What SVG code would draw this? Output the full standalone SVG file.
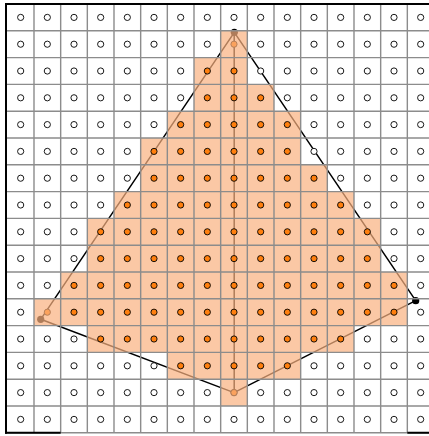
<svg xmlns="http://www.w3.org/2000/svg" width="429" height="436" viewBox="0 0 429 436">
<style>
.edge{stroke:#000;stroke-width:1.5;fill:none;stroke-linejoin:round}
.vtx{fill:#000}
.shade{fill:#f9b07f;fill-opacity:0.7}
.grid{stroke:#8c8c8c;stroke-width:1.4;fill:none}
.spine{stroke:#000;stroke-width:2;fill:none}
.w circle{fill:#fff;stroke:#000;stroke-width:0.9}
.o circle{fill:#ff7f0e;stroke:#000;stroke-width:0.9}
circle{r:3.1px}
</style>
<rect x="0" y="0" width="429" height="436" fill="#fff"/>
<g id="polygon">
<path class="edge" d="M234.3,32.3 L415.7,300.7 L234,392.6 L40.7,319.3 Z"/>
<path class="edge" d="M234.2,32.3 L234.2,392.6"/>
<circle class="vtx" cx="234.3" cy="32.3" r="3.6" style="r:3.6px"/>
<circle class="vtx" cx="415.7" cy="300.7" r="3.6" style="r:3.6px"/>
<circle class="vtx" cx="40.7" cy="319.3" r="3.6" style="r:3.6px"/>
<circle class="vtx" cx="234" cy="392.6" r="3.6" style="r:3.6px"/>
</g>
<g id="vertex-cells" class="o">
<circle cx="234" cy="44.2"/>
<circle cx="47.33" cy="312.2"/>
<circle cx="234" cy="392.6"/>
</g>
<g id="shaded-cells">
<rect class="shade" x="220.67" y="30.8" width="26.67" height="26.8"/>
<rect class="shade" x="194" y="57.6" width="53.33" height="26.8"/>
<rect class="shade" x="194" y="84.4" width="80" height="26.8"/>
<rect class="shade" x="167.33" y="111.2" width="133.33" height="26.8"/>
<rect class="shade" x="140.67" y="138" width="160" height="26.8"/>
<rect class="shade" x="140.67" y="164.8" width="186.67" height="26.8"/>
<rect class="shade" x="114" y="191.6" width="240" height="26.8"/>
<rect class="shade" x="87.33" y="218.4" width="293.33" height="26.8"/>
<rect class="shade" x="87.33" y="245.2" width="293.33" height="26.8"/>
<rect class="shade" x="60.67" y="272" width="346.67" height="26.8"/>
<rect class="shade" x="34" y="298.8" width="373.33" height="26.8"/>
<rect class="shade" x="87.33" y="325.6" width="266.67" height="26.8"/>
<rect class="shade" x="167.33" y="352.4" width="133.33" height="26.8"/>
<rect class="shade" x="220.67" y="379.2" width="26.67" height="26.8"/>
</g>
<g id="grid" class="grid">
<path d="M34,4V432.8M60.67,4V432.8M87.33,4V432.8M114,4V432.8M140.67,4V432.8M167.33,4V432.8M194,4V432.8M220.67,4V432.8M247.33,4V432.8M274,4V432.8M300.67,4V432.8M327.33,4V432.8M354,4V432.8M380.67,4V432.8M407.33,4V432.8"/>
<path d="M6,30.8H429M6,57.6H429M6,84.4H429M6,111.2H429M6,138H429M6,164.8H429M6,191.6H429M6,218.4H429M6,245.2H429M6,272H429M6,298.8H429M6,325.6H429M6,352.4H429M6,379.2H429M6,406H429M6,432.8H429"/>
</g>
<g id="axes" class="spine">
<path d="M6,3V433.8"/>
<path d="M5,4H429"/>
<path d="M5,432.8H60.67M407.33,432.8H429"/>
</g>
<g id="cell-centres">
<g class="w" transform="translate(0,17.4)"><circle cx="20.67"/><circle cx="47.33"/><circle cx="74"/><circle cx="100.67"/><circle cx="127.33"/><circle cx="154"/><circle cx="180.67"/><circle cx="207.33"/><circle cx="234"/><circle cx="260.67"/><circle cx="287.33"/><circle cx="314"/><circle cx="340.67"/><circle cx="367.33"/><circle cx="394"/><circle cx="420.67"/></g>
<g class="w" transform="translate(0,44.2)"><circle cx="20.67"/><circle cx="47.33"/><circle cx="74"/><circle cx="100.67"/><circle cx="127.33"/><circle cx="154"/><circle cx="180.67"/><circle cx="207.33"/><circle cx="260.67"/><circle cx="287.33"/><circle cx="314"/><circle cx="340.67"/><circle cx="367.33"/><circle cx="394"/><circle cx="420.67"/></g>
<g class="w" transform="translate(0,71)"><circle cx="20.67"/><circle cx="47.33"/><circle cx="74"/><circle cx="100.67"/><circle cx="127.33"/><circle cx="154"/><circle cx="180.67"/><circle cx="260.67"/><circle cx="287.33"/><circle cx="314"/><circle cx="340.67"/><circle cx="367.33"/><circle cx="394"/><circle cx="420.67"/></g>
<g class="o" transform="translate(0,71)"><circle cx="207.33"/><circle cx="234"/></g>
<g class="w" transform="translate(0,97.8)"><circle cx="20.67"/><circle cx="47.33"/><circle cx="74"/><circle cx="100.67"/><circle cx="127.33"/><circle cx="154"/><circle cx="180.67"/><circle cx="287.33"/><circle cx="314"/><circle cx="340.67"/><circle cx="367.33"/><circle cx="394"/><circle cx="420.67"/></g>
<g class="o" transform="translate(0,97.8)"><circle cx="207.33"/><circle cx="234"/><circle cx="260.67"/></g>
<g class="w" transform="translate(0,124.6)"><circle cx="20.67"/><circle cx="47.33"/><circle cx="74"/><circle cx="100.67"/><circle cx="127.33"/><circle cx="154"/><circle cx="314"/><circle cx="340.67"/><circle cx="367.33"/><circle cx="394"/><circle cx="420.67"/></g>
<g class="o" transform="translate(0,124.6)"><circle cx="180.67"/><circle cx="207.33"/><circle cx="234"/><circle cx="260.67"/><circle cx="287.33"/></g>
<g class="w" transform="translate(0,151.4)"><circle cx="20.67"/><circle cx="47.33"/><circle cx="74"/><circle cx="100.67"/><circle cx="127.33"/><circle cx="314"/><circle cx="340.67"/><circle cx="367.33"/><circle cx="394"/><circle cx="420.67"/></g>
<g class="o" transform="translate(0,151.4)"><circle cx="154"/><circle cx="180.67"/><circle cx="207.33"/><circle cx="234"/><circle cx="260.67"/><circle cx="287.33"/></g>
<g class="w" transform="translate(0,178.2)"><circle cx="20.67"/><circle cx="47.33"/><circle cx="74"/><circle cx="100.67"/><circle cx="127.33"/><circle cx="340.67"/><circle cx="367.33"/><circle cx="394"/><circle cx="420.67"/></g>
<g class="o" transform="translate(0,178.2)"><circle cx="154"/><circle cx="180.67"/><circle cx="207.33"/><circle cx="234"/><circle cx="260.67"/><circle cx="287.33"/><circle cx="314"/></g>
<g class="w" transform="translate(0,205)"><circle cx="20.67"/><circle cx="47.33"/><circle cx="74"/><circle cx="100.67"/><circle cx="367.33"/><circle cx="394"/><circle cx="420.67"/></g>
<g class="o" transform="translate(0,205)"><circle cx="127.33"/><circle cx="154"/><circle cx="180.67"/><circle cx="207.33"/><circle cx="234"/><circle cx="260.67"/><circle cx="287.33"/><circle cx="314"/><circle cx="340.67"/></g>
<g class="w" transform="translate(0,231.8)"><circle cx="20.67"/><circle cx="47.33"/><circle cx="74"/><circle cx="394"/><circle cx="420.67"/></g>
<g class="o" transform="translate(0,231.8)"><circle cx="100.67"/><circle cx="127.33"/><circle cx="154"/><circle cx="180.67"/><circle cx="207.33"/><circle cx="234"/><circle cx="260.67"/><circle cx="287.33"/><circle cx="314"/><circle cx="340.67"/><circle cx="367.33"/></g>
<g class="w" transform="translate(0,258.6)"><circle cx="20.67"/><circle cx="47.33"/><circle cx="74"/><circle cx="394"/><circle cx="420.67"/></g>
<g class="o" transform="translate(0,258.6)"><circle cx="100.67"/><circle cx="127.33"/><circle cx="154"/><circle cx="180.67"/><circle cx="207.33"/><circle cx="234"/><circle cx="260.67"/><circle cx="287.33"/><circle cx="314"/><circle cx="340.67"/><circle cx="367.33"/></g>
<g class="w" transform="translate(0,285.4)"><circle cx="20.67"/><circle cx="47.33"/><circle cx="420.67"/></g>
<g class="o" transform="translate(0,285.4)"><circle cx="74"/><circle cx="100.67"/><circle cx="127.33"/><circle cx="154"/><circle cx="180.67"/><circle cx="207.33"/><circle cx="234"/><circle cx="260.67"/><circle cx="287.33"/><circle cx="314"/><circle cx="340.67"/><circle cx="367.33"/><circle cx="394"/></g>
<g class="w" transform="translate(0,312.2)"><circle cx="20.67"/><circle cx="420.67"/></g>
<g class="o" transform="translate(0,312.2)"><circle cx="74"/><circle cx="100.67"/><circle cx="127.33"/><circle cx="154"/><circle cx="180.67"/><circle cx="207.33"/><circle cx="234"/><circle cx="260.67"/><circle cx="287.33"/><circle cx="314"/><circle cx="340.67"/><circle cx="367.33"/><circle cx="394"/></g>
<g class="w" transform="translate(0,339)"><circle cx="20.67"/><circle cx="47.33"/><circle cx="74"/><circle cx="367.33"/><circle cx="394"/><circle cx="420.67"/></g>
<g class="o" transform="translate(0,339)"><circle cx="100.67"/><circle cx="127.33"/><circle cx="154"/><circle cx="180.67"/><circle cx="207.33"/><circle cx="234"/><circle cx="260.67"/><circle cx="287.33"/><circle cx="314"/><circle cx="340.67"/></g>
<g class="w" transform="translate(0,365.8)"><circle cx="20.67"/><circle cx="47.33"/><circle cx="74"/><circle cx="100.67"/><circle cx="127.33"/><circle cx="154"/><circle cx="314"/><circle cx="340.67"/><circle cx="367.33"/><circle cx="394"/><circle cx="420.67"/></g>
<g class="o" transform="translate(0,365.8)"><circle cx="180.67"/><circle cx="207.33"/><circle cx="234"/><circle cx="260.67"/><circle cx="287.33"/></g>
<g class="w" transform="translate(0,392.6)"><circle cx="20.67"/><circle cx="47.33"/><circle cx="74"/><circle cx="100.67"/><circle cx="127.33"/><circle cx="154"/><circle cx="180.67"/><circle cx="207.33"/><circle cx="260.67"/><circle cx="287.33"/><circle cx="314"/><circle cx="340.67"/><circle cx="367.33"/><circle cx="394"/><circle cx="420.67"/></g>
<g class="w" transform="translate(0,419.4)"><circle cx="20.67"/><circle cx="47.33"/><circle cx="74"/><circle cx="100.67"/><circle cx="127.33"/><circle cx="154"/><circle cx="180.67"/><circle cx="207.33"/><circle cx="234"/><circle cx="260.67"/><circle cx="287.33"/><circle cx="314"/><circle cx="340.67"/><circle cx="367.33"/><circle cx="394"/><circle cx="420.67"/></g>
</g>
</svg>
